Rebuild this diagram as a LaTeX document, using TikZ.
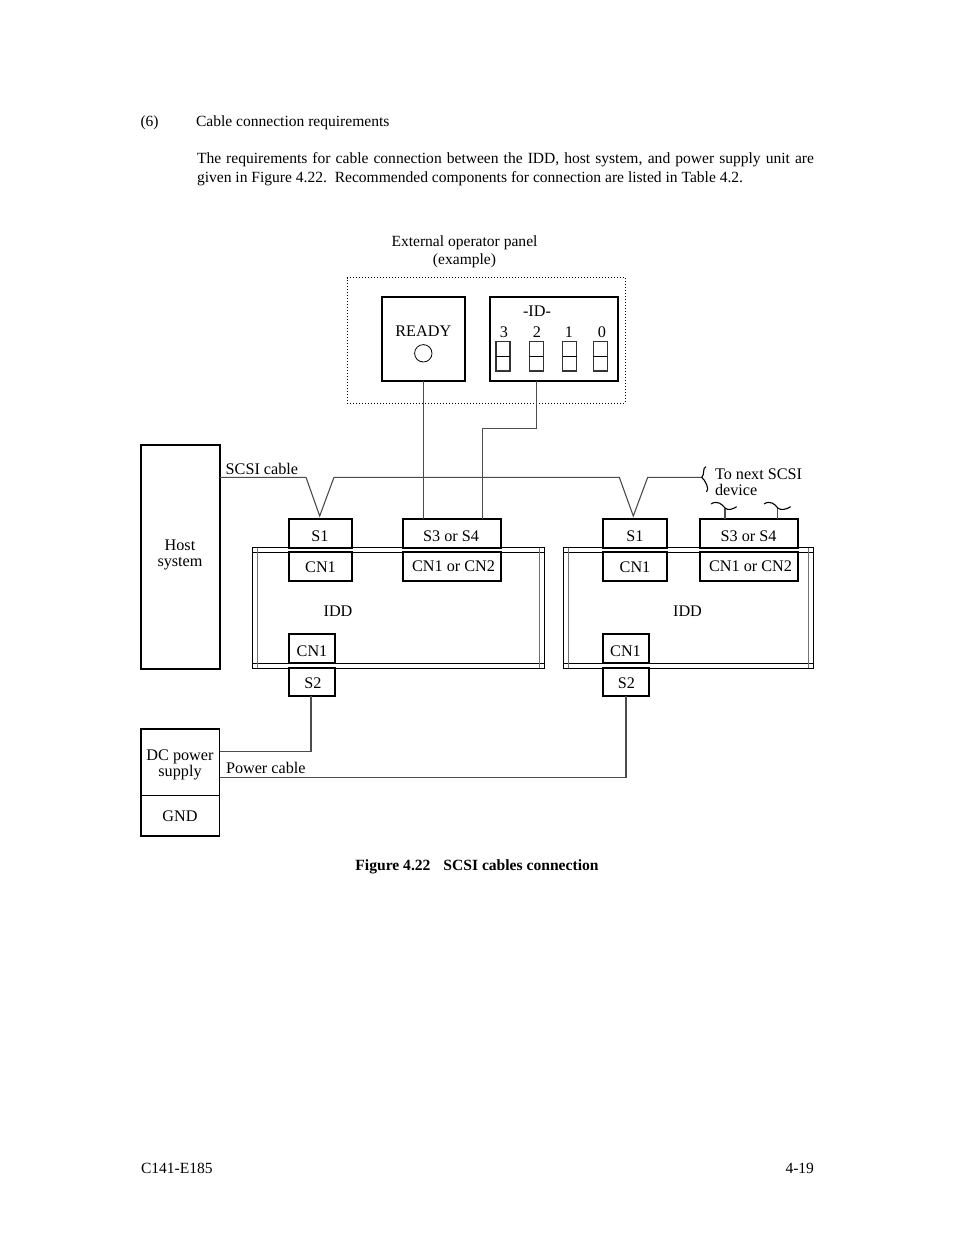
\documentclass[tikz,border=0pt]{standalone}
\usepackage{fontspec}
\setmainfont{Liberation Serif}
\newcommand{\mybox}[6][boxline]{\node[#1,minimum width={(#4-#2)*1pt},minimum height={(#5-#3)*1pt}] (#6) at ({(#2+#4)/2},{(#3+#5)/2}) {};}
\newcommand{\lab}[5][base]{\node[txt,anchor=#1] (#2) at (#3,#4) {#5};}
\newcommand{\dlab}[5][base]{\node[dtxt,anchor=#1] (#2) at (#3,#4) {#5};}
\definecolor{wire}{gray}{0.3}
\tikzset{
  boxline/.style={draw=black,line width=1.7pt,inner sep=0pt,outer sep=0pt},
  thinbox/.style={draw=black,line width=1.5pt,inner sep=0pt,outer sep=0pt},
  powbox/.style={draw=black,line width=1.4pt,inner sep=0pt,outer sep=0pt},
  swbox/.style={draw=black!80,line width=1.1pt,inner sep=0pt,outer sep=0pt},
  dotbox/.style={draw=black,line width=1pt,dash pattern=on 1pt off 2pt,inner sep=0pt,outer sep=0pt},
  txt/.style={inner sep=0pt,outer sep=0pt,font=\fontsize{15.55}{18}\selectfont},
  dtxt/.style={inner sep=0pt,outer sep=0pt,font=\fontsize{16.2}{18}\selectfont},
  cable/.style={draw=wire,line width=1.1pt},
  darkcable/.style={draw=black,line width=1.1pt},
  bandline/.style={draw=black,line width=1.5pt},
  inner/.style={draw=black!55,line width=1.2pt}
}
\begin{document}
\begin{tikzpicture}[x=1pt,y=-1pt]
\useasboundingbox[fill=white] (0,0) rectangle (954,1235);
% page text
\lab[base west]{num}{140.5}{126}{(6)}
\lab[base west]{head}{196}{126}{Cable connection requirements}
\node[txt,anchor=base west] (bodya) at (197,163) {\hbox to 617pt{The requirements for cable connection between the IDD, host system, and power supply unit are}};
\lab[base west]{bodyb}{197}{182}{given in Figure 4.22.\ \ Recommended components for connection are listed in Table 4.2.}
\lab{panela}{464.5}{246}{External operator panel}
\lab{panelb}{464.5}{264}{(example)}
\node[txt,anchor=base,font=\fontsize{15.6}{18}\selectfont\bfseries] (cap) at (477,870) {Figure 4.22\hspace{9pt} SCSI cables connection};
\lab[base west]{foota}{141}{1173}{C141-E185}
\lab[base east]{footb}{814}{1173}{4-19}
% operator panel
\mybox[dotbox]{347}{277.5}{625}{403}{panel}
\mybox{381.7}{297.3}{465.3}{381}{ready}
\mybox{489.7}{297.3}{618.3}{381}{idbox}
\dlab{readyt}{423.3}{336}{READY}
\node[draw=black,line width=.8pt,circle,minimum size=17.4pt,inner sep=0pt] (led) at (423.3,353.3) {};
\dlab{idt}{537}{316}{-ID-}
\dlab{da}{504}{337}{3}
\dlab{db}{537}{337}{2}
\dlab{dc}{569}{337}{1}
\dlab{dd}{602}{337}{0}
\mybox[swbox]{496}{341.3}{510}{371}{swa}
\mybox[swbox]{529.3}{341.3}{543.3}{371}{swb}
\mybox[swbox]{562.7}{341.3}{576.7}{371}{swc}
\mybox[swbox]{593.3}{341.3}{607.3}{371}{swd}
\foreach \s in {swa,swb,swc,swd} \draw[darkcable] (\s.west) -- (\s.east);
% host
\mybox{141}{445.3}{219.7}{669}{host}
\dlab{hosta}{180}{550}{Host}
\dlab{hostb}{180}{566}{system}
% left IDD connectors
\mybox{288.7}{518.7}{352.3}{547.7}{sa}
\mybox{288.7}{552.3}{352.3}{580.7}{cna}
\mybox{402.7}{518.7}{501}{547.7}{sb}
\mybox{402.7}{552.3}{501}{580.7}{cnb}
\mybox{288.7}{633.7}{335.3}{663.3}{cnc}
\mybox{288.7}{668.3}{335.3}{696}{sc}
% left IDD
\mybox[thinbox]{252.3}{547.7}{544.3}{668.3}{idda}
\draw[bandline] (idda.north west |- cna.north) -- (idda.north east |- cna.north);
\draw[bandline] (idda.south west |- cnc.south) -- (idda.south east |- cnc.south);
\coordinate (ial) at (257.3,600);
\coordinate (iar) at (539.3,600);
\draw[inner] (ial |- idda.north) -- (ial |- idda.south);
\draw[inner] (iar |- idda.north) -- (iar |- idda.south);
\dlab{lsa}{320}{541}{S1}
\dlab{lsb}{451}{541}{S3 or S4}
\dlab{lca}{320.5}{572}{CN1}
\dlab{lcb}{453.5}{571}{CN1 or CN2}
\dlab{lidda}{338}{616}{IDD}
\dlab{lcc}{312}{656}{CN1}
\dlab{lsc}{313}{688}{S2}
% right IDD connectors
\mybox{603.3}{518.7}{667.3}{547.7}{sd}
\mybox{603.3}{552.3}{667.3}{580.7}{cnd}
\mybox{699.7}{518.7}{798}{547.7}{se}
\mybox{699.7}{552.3}{798}{580.7}{cne}
\mybox{602.7}{633.7}{649.3}{663.3}{cnf}
\mybox{602.7}{668.3}{649.3}{696}{sf}
% right IDD
\mybox[thinbox]{563.7}{547.7}{813.3}{668.3}{iddb}
\draw[bandline] (iddb.north west |- cnd.north) -- (iddb.north east |- cnd.north);
\draw[bandline] (iddb.south west |- cnf.south) -- (iddb.south east |- cnf.south);
\coordinate (ibl) at (568.7,600);
\coordinate (ibr) at (808.7,600);
\draw[inner] (ibl |- iddb.north) -- (ibl |- iddb.south);
\draw[inner] (ibr |- iddb.north) -- (ibr |- iddb.south);
\dlab{lsd}{635}{541}{S1}
\dlab{lse}{748.5}{541}{S3 or S4}
\dlab{lcd}{635}{572}{CN1}
\dlab{lce}{750.5}{571}{CN1 or CN2}
\dlab{liddb}{687.5}{616}{IDD}
\dlab{lcf}{625.5}{656}{CN1}
\dlab{lsf}{626.5}{688}{S2}
% power
\mybox[powbox]{141}{729}{219.7}{795.3}{dc}
\mybox[powbox]{141}{795.3}{219.7}{836}{gnd}
\dlab{dca}{180}{760}{DC power}
\dlab{dcb}{180}{776}{supply}
\dlab{gndt}{180}{821}{GND}
% cable labels
\dlab[base west]{scsil}{225.7}{474}{SCSI cable}
\dlab[base west]{powl}{226}{773}{Power cable}
\dlab[base west]{nexta}{715}{479}{To next SCSI}
\dlab[base west]{nextb}{715}{495}{device}
% connectors
\coordinate (sbus) at (0,477.3);
\coordinate (tipa) at (319.7,516);
\coordinate (tipb) at (633.3,516);
\coordinate (brace) at (701.7,477.3);
\draw[cable,line join=miter] (host.east |- sbus) -- (306,477.3) -- (tipa) -- (334,477.3) -- (619.3,477.3) -- (tipb) -- (647.7,477.3) -- (brace);
\draw[darkcable] (706,466.7) .. controls (702,468) and (705,475) .. (brace) .. controls (705,480) and (710,489) .. (706.5,492);
\draw[cable] (ready.south) -- (ready.south |- sb.north);
\coordinate (idbend) at (482.3,428.5);
\draw[cable] (swb |- idbox.south) |- (idbend) -- (idbend |- sb.north);
% stubs
\coordinate (stubc) at (725,508);
\coordinate (stubd) at (777.7,508);
\draw[cable] (stubc |- se.north) -- (stubc);
\draw[cable] (stubd |- se.north) -- (stubd);
\draw[darkcable] (711,504) .. controls (717,500) and (722,504) .. (stubc) .. controls (728,511) and (733,509) .. (736.7,506.7);
\draw[darkcable] (764,504) .. controls (770,500) and (775,504) .. (stubd) .. controls (781,511) and (787,509) .. (790.7,506.7);
% power cables
\coordinate (powa) at (311,751.3);
\draw[cable] (powa |- sc.south) -- (powa) -- (dc.east |- powa);
\draw[cable] (dc.east |- 0,777.3) -| (sf.south);
\end{tikzpicture}
\end{document}
